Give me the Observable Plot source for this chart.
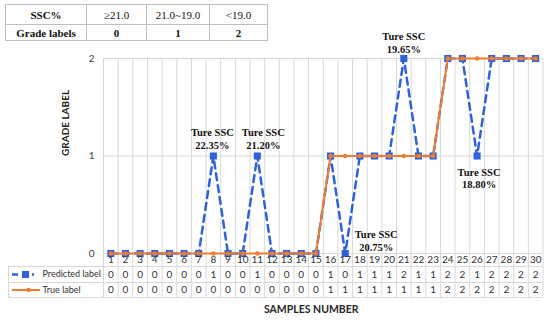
<!DOCTYPE html>
<html><head><meta charset="utf-8">
<script src="https://cdn.jsdelivr.net/npm/d3@7"></script>
<script src="https://cdn.jsdelivr.net/npm/@observablehq/plot@0.6"></script>
<style>
body{margin:0;background:#fff;}
#wrap{position:relative;width:550px;height:323px;}
#ssc{position:absolute;left:5px;top:4px;border-collapse:collapse;font-family:"Liberation Serif",serif;font-size:11px;color:#111;background:#fff;z-index:2;}
#ssc td{border:1px solid #bfbfbf;text-align:center;padding:0;}
#ssc tr.r1 td{height:19px;}
#ssc tr.r2 td{height:15px;}
</style></head>
<body><div id="wrap"><table id="ssc"></table></div>
<script>
// ---- data ----
const sscHeader = ["SSC%", "≥21.0", "21.0~19.0", "<19.0"];
const gradeRow = ["Grade labels", "0", "1", "2"];
const samples = [1,2,3,4,5,6,7,8,9,10,11,12,13,14,15,16,17,18,19,20,21,22,23,24,25,26,27,28,29,30];
const predicted = [0,0,0,0,0,0,0,1,0,0,1,0,0,0,0,1,0,1,1,1,2,1,1,2,2,1,2,2,2,2];
const trueLabel = [0,0,0,0,0,0,0,0,0,0,0,0,0,0,0,1,1,1,1,1,1,1,1,2,2,2,2,2,2,2];
const yTicks = [0, 1, 2];
const annotSamples = [8, 11, 21, 26, 17];
const annotTexts = ["Ture SSC\n22.35%", "Ture SSC\n21.20%", "Ture SSC\n19.65%", "Ture SSC\n18.80%", "Ture SSC\n20.75%"];
const seriesNames = ["Predicted label", "True label"];

// ---- top table ----
const colW = [80, 59, 62, 57];
const tbl = d3.select("#ssc");
const r1 = tbl.append("tr").attr("class","r1");
sscHeader.forEach((t,i)=>r1.append("td").style("width",colW[i]+"px").style("font-weight", i===0?"bold":"normal").text(t));
const r2 = tbl.append("tr").attr("class","r2");
gradeRow.forEach((t,i)=>r2.append("td").style("font-weight","bold").text(t));

// ---- chart ----
const blue = "#2F62D8", orange = "#ED7D31", grid = "#d9d9d9", txt = "#333";
const rows = samples.map((s,i)=>({s, pred: predicted[i], tru: trueLabel[i]}));
const bounds = [0, ...samples].map(d => d + 0.5);
const annots = annotSamples.map((s,i)=>({s, y: predicted[samples.indexOf(s)], text: annotTexts[i]}));
const annotOffset = {8:[-1,-17.5], 11:[6,-17.5], 21:[0,-16], 26:[2,22], 17:[31,-13]};
const sans = "Lato, 'Liberation Sans', sans-serif";

const plot = Plot.plot({
  width: 550, height: 323,
  marginLeft: 103, marginRight: 7.5, marginTop: 58, marginBottom: 70,
  x: {domain: [0.5, 30.5], axis: null},
  y: {domain: [0, 2], axis: null},
  style: {fontFamily: sans, fontSize: "10px", color: txt, background: "transparent", overflow: "visible"},
  marks: [
    Plot.ruleY(yTicks, {stroke: grid}),
    Plot.ruleX(bounds, {y1: () => 2, y2: () => 0, insetBottom: -44, stroke: grid}),
    Plot.ruleY([0], {dy: 13, insetLeft: -95, stroke: grid}),
    Plot.ruleY([0], {dy: 29, insetLeft: -95, stroke: grid}),
    Plot.ruleY([0], {dy: 44, insetLeft: -95, stroke: grid}),
    Plot.ruleX([0.5], {y1: () => 0, y2: () => 0, insetTop: 13, insetBottom: -44, dx: -95, stroke: grid}),
    // y axis tick labels
    Plot.text(yTicks, {y: d => d, text: d => String(d), frameAnchor: "left", dx: -9, textAnchor: "end", fill: "#404040", fontSize: 10}),
    // series
    Plot.line(rows, {x: "s", y: "pred", stroke: blue, strokeWidth: 2.5, strokeDasharray: "7,5"}),
    Plot.dot(rows, {x: "s", y: "pred", symbol: "square", r: 4, fill: blue}),
    Plot.line(rows, {x: "s", y: "tru", stroke: orange, strokeWidth: 2}),
    Plot.dot(rows, {x: "s", y: "tru", r: 2.3, fill: orange}),
    // data table
    Plot.text(rows, {x: "s", y: () => 0, text: d => String(d.s), dy: 6.5, fill: txt}),
    Plot.text(rows, {x: "s", y: () => 0, text: d => String(d.pred), dy: 21, fill: txt}),
    Plot.text(rows, {x: "s", y: () => 0, text: d => String(d.tru), dy: 36.5, fill: txt}),
    // legend in table
    Plot.ruleY([0], {dy: 21, insetLeft: -91, insetRight: 508.5, stroke: blue, strokeWidth: 2.5, strokeDasharray: "6,4"}),
    Plot.dot([0], {y: d => d, frameAnchor: "left", dx: -78, dy: 21, symbol: "square", r: 4, fill: blue}),
    Plot.ruleY([0], {dy: 36.5, insetLeft: -91, insetRight: 502.5, stroke: orange, strokeWidth: 2}),
    Plot.dot([0], {y: d => d, frameAnchor: "left", dx: -75, dy: 36.5, r: 2.3, fill: orange}),
    Plot.text([seriesNames[0]], {y: () => 0, text: d => d, frameAnchor: "left", dx: -61, dy: 21, textAnchor: "start", fill: txt, fontSize: 9}),
    Plot.text([seriesNames[1]], {y: () => 0, text: d => d, frameAnchor: "left", dx: -61, dy: 36.5, textAnchor: "start", fill: txt, fontSize: 9}),
    // annotations
    ...annots.map(a => Plot.text([a], {x: "s", y: "y", text: "text", dx: annotOffset[a.s][0], dy: annotOffset[a.s][1],
      fontFamily: "'Liberation Serif', serif", fontWeight: "bold", fontSize: 10.5, lineHeight: 1.18, fill: "#111"})),
    // axis titles
    Plot.text(["GRADE LABEL"], {text: d => d, frameAnchor: "left", dx: -38, rotate: -90, fontWeight: "bold", fontSize: 10, fill: "#262626"}),
    Plot.text(["SAMPLES NUMBER"], {text: d => d, frameAnchor: "bottom", dx: -12, dy: 59, fontWeight: "bold", fontSize: 10.5, fill: "#262626"})
  ]
});
document.getElementById("wrap").appendChild(plot);
plot.style.position = "absolute"; plot.style.left = "0"; plot.style.top = "0";
</script>
</body></html>
